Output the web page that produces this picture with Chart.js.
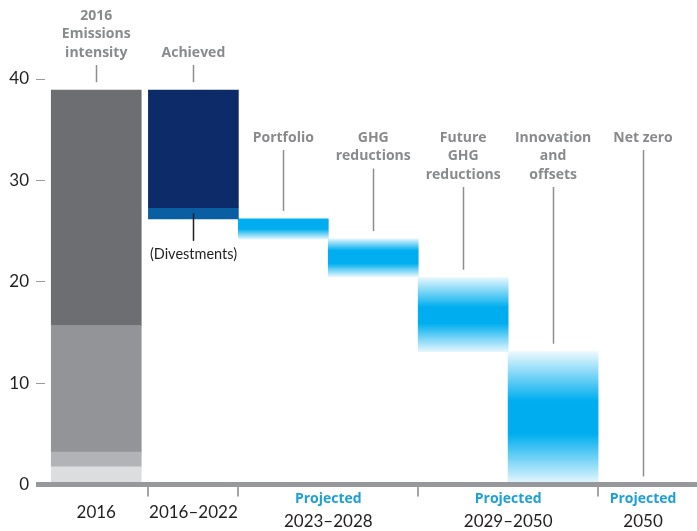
<!DOCTYPE html>
<html>
<head>
<meta charset="utf-8">
<script src="https://cdn.jsdelivr.net/npm/chart.js@4.4.1/dist/chart.umd.min.js"></script>
<style>
  html, body { margin: 0; padding: 0; background: #fff; }
  #wrap { width: 697px; height: 531px; }
</style>
</head>
<body>
<div id="wrap"><canvas id="chart" width="697" height="531"></canvas></div>
<script>
// Emissions intensity waterfall

// column names (annotation above each column, one entry per text line)
const columnNames = [
    ['2016', 'Emissions', 'intensity'],
    ['Achieved'],
    ['Portfolio'],
    ['GHG', 'reductions'],
    ['Future', 'GHG', 'reductions'],
    ['Innovation', 'and', 'offsets'],
    ['Net zero']
];
const columnX = [0.92, 2, 3, 4, 5, 6, 7];

// 2016 bar, stacked bottom to top (cumulative tops)
const base2016 = [1.75, 3.2, 15.7, 38.9];
// 2016-2022
const achieved = [27.3, 38.9];
const divestments = [26.2, 27.3];
// projected steps [low, high]
const projectedSteps = [[24.2, 26.2], [20.5, 24.2], [13.1, 20.4], [0, 13.1]];
const netZero = 0;

const yTicks = [0, 10, 20, 30, 40];

// x axis periods
const periodLabels = ['2016', '2016–2022', '2023–2028', '2029–2050', '2050'];
const periodProjected = [false, false, true, true, true];
const periodX = [0.92, 2, 3.5, 5.5, 7];
const periodBreaks = [1.5, 2.5, 4.5, 6.5];

const FONT = 'Lato, "Open Sans", sans-serif';
const BOLD_FONT = '"Open Sans", Lato, sans-serif';
const grays = ['#dcdddf', '#b2b3b6', '#939498', '#6d6e72'];
const CYAN = [0, 174, 239];

// gradient stops for each projected step (position, alpha)
const stepStops = [
    [[0, 1], [0.5, 1], [1, 0.1]],
    [[0, 0.15], [0.3, 1], [0.65, 1], [1, 0.1]],
    [[0, 0.1], [0.4, 1], [0.62, 1], [1, 0.1]],
    [[0, 0.08], [0.37, 1], [0.62, 1], [1, 0.08]]
];

function stepGradient(context, i) {
    const chart = context.chart;
    const y = chart.scales.y;
    if (!chart.chartArea || !y) return 'rgb(0,174,239)';
    const top = y.getPixelForValue(projectedSteps[i][1]);
    const bottom = y.getPixelForValue(projectedSteps[i][0]);
    const g = chart.ctx.createLinearGradient(0, top, 0, bottom);
    stepStops[i].forEach(([p, a]) => g.addColorStop(p, `rgba(${CYAN.join(',')},${a})`));
    return g;
}

const datasets = [];
base2016.forEach((top, i) => {
    datasets.push({
        data: [{ x: columnX[0], y: [i === 0 ? 0 : base2016[i - 1], top] }],
        backgroundColor: grays[i]
    });
});
datasets.push({ data: [{ x: columnX[1], y: achieved }], backgroundColor: '#0e2b69' });
datasets.push({ data: [{ x: columnX[1], y: divestments }], backgroundColor: '#0a5fa2' });
projectedSteps.forEach((step, i) => {
    datasets.push({
        data: [{ x: columnX[i + 2], y: step }],
        backgroundColor: ctx => stepGradient(ctx, i)
    });
});

const columnTops = [base2016[3], achieved[1], ...projectedSteps.map(s => s[1]), netZero];

const overlay = {
    id: 'overlay',
    afterDatasetsDraw(chart) {
        const { ctx, chartArea, scales: { x, y } } = chart;
        ctx.save();

        // thick base line
        const y0 = y.getPixelForValue(0);
        ctx.fillStyle = '#97989b';
        ctx.fillRect(chartArea.left - 9, y0 - 2.5, chartArea.right - chartArea.left + 9, 5);

        // period separators
        ctx.strokeStyle = '#a3a4a7';
        ctx.lineWidth = 2;
        periodBreaks.forEach(v => {
            const px = Math.round(x.getPixelForValue(v));
            ctx.beginPath();
            ctx.moveTo(px, y0 + 2.5);
            ctx.lineTo(px, y0 + 12);
            ctx.stroke();
        });

        // period labels
        ctx.textAlign = 'center';
        ctx.textBaseline = 'middle';
        periodLabels.forEach((lab, i) => {
            const px = x.getPixelForValue(periodX[i]);
            if (periodProjected[i]) {
                ctx.fillStyle = '#1ca0da';
                ctx.font = `bold 14px ${BOLD_FONT}`;
                ctx.fillText('Projected', px, y0 + 15);
                ctx.fillStyle = '#231f20';
                ctx.font = `17px ${FONT}`;
                ctx.fillText(lab, px, y0 + 37);
            } else {
                ctx.fillStyle = '#231f20';
                ctx.font = `17px ${FONT}`;
                ctx.fillText(lab, px, y0 + 28);
            }
        });

        // annotations with leader lines
        ctx.font = `bold 14px ${BOLD_FONT}`;
        columnNames.forEach((lines, i) => {
            const px = x.getPixelForValue(columnX[i]);
            const lineH = 18.5;
            const firstY = i < 2 ? 53 - (lines.length - 1) * lineH : 138;
            ctx.fillStyle = '#898a8d';
            lines.forEach((t, k) => ctx.fillText(t, px, firstY + k * lineH));
            const lastY = firstY + (lines.length - 1) * lineH;
            const lx = Math.round(px) + 0.5;
            ctx.strokeStyle = '#8d8e91';
            ctx.lineWidth = 1.5;
            ctx.beginPath();
            ctx.moveTo(lx, lastY + 12);
            ctx.lineTo(lx, y.getPixelForValue(columnTops[i]) - 8);
            ctx.stroke();
        });

        // divestments callout
        const dx = Math.round(x.getPixelForValue(columnX[1])) + 0.5;
        ctx.strokeStyle = '#231f20';
        ctx.lineWidth = 1.5;
        ctx.beginPath();
        ctx.moveTo(dx, y.getPixelForValue((divestments[0] + divestments[1]) / 2));
        ctx.lineTo(dx, y.getPixelForValue(divestments[0]) + 22);
        ctx.stroke();
        ctx.fillStyle = '#231f20';
        ctx.font = `14.5px ${FONT}`;
        ctx.fillText('(Divestments)', dx, y.getPixelForValue(divestments[0]) + 35);

        ctx.restore();
    }
};

new Chart(document.getElementById('chart'), {
    type: 'bar',
    data: { datasets },
    options: {
        responsive: false,
        animation: false,
        events: [],
        layout: { padding: { top: 79, bottom: 46.5, left: 0, right: 0 } },
        datasets: { bar: { grouped: false, barThickness: 90, borderWidth: 0 } },
        plugins: { legend: { display: false }, tooltip: { enabled: false } },
        scales: {
            x: { type: 'linear', display: false, offset: false, min: 0.35, max: 7.6 },
            y: {
                min: 0, max: 40,
                afterBuildTicks: s => { s.ticks = yTicks.map(v => ({ value: v })); },
                afterFit: s => { s.width = 45; },
                border: { display: false },
                grid: { drawOnChartArea: false, drawTicks: true, tickLength: 9, tickColor: '#9a9b9e', tickWidth: 1 },
                ticks: { color: '#231f20', padding: 7, font: { family: FONT, size: 17 } }
            }
        }
    },
    plugins: [overlay]
});
</script>
</body>
</html>
